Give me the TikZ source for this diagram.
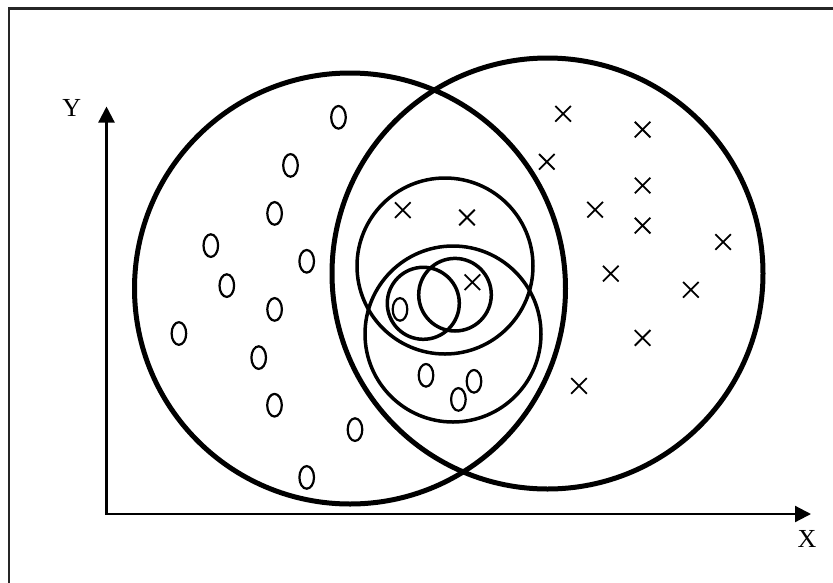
\documentclass[tikz,border=0pt]{standalone}
\usepackage{fontspec}
\setmainfont{Liberation Serif}
\usetikzlibrary{arrows.meta}
\begin{document}
\begin{tikzpicture}[x=1pt,y=-1pt,
  bigc/.style={line width=5pt},
  midc/.style={line width=3.5pt},
  zeromk/.style={line width=2.2pt},
  crossmk/.style={line width=1.8pt},
  frameline/.style={line width=2.2pt, draw=black!85},
  axisline/.style={line width=2.2pt,{Triangle[length=16pt,width=16pt]}-{Triangle[length=16pt,width=16pt]}},
  lbl/.style={font=\fontsize{26}{30}\selectfont, inner sep=0pt}]
\useasboundingbox (0,0) rectangle (833,582);
% frame (only left and top edges fall inside the picture)
\draw[frameline] (9,600) -- (9,8.5) -- (850,8.5);
% axes
\coordinate (O) at (106.5,514);
\coordinate (ytip) at (106.5,106.5);
\coordinate (xtip) at (811,514);
\draw[axisline] (ytip) -- (O) -- (xtip);
\node[lbl] (ylabel) at (71.7,108) {Y};
\node[lbl] (xlabel) at (807,538.5) {X};
% big circles
\draw[bigc] (350,288.5) circle [radius=215.5];
\draw[bigc] (547.5,273.5) circle [radius=215.5];
% medium circles
\draw[midc] (445,266) circle [radius=88];
\draw[midc] (453,334) circle [radius=88];
% small circles
\draw[midc] (423.3,303.3) circle [radius=36];
\draw[midc] (455,294.7) circle [radius=36.3];
% zeros
\foreach \px/\py in {338.5/117.3, 290.5/165.4, 274.6/213.4, 210.8/245.6, 306.7/261.3,
  226.8/285.6, 274.6/309.4, 178.9/333.5, 258.7/357.6, 274.5/405.2, 355/429.6,
  306.7/477.4, 400/309.4, 426/375.3, 458.4/399.4, 474/381.3}
  \draw[zeromk] (\px,\py) ellipse [x radius=7.3, y radius=11.3];
% crosses
\foreach \px/\py in {563.1/113.8, 642.6/129.6, 546.8/161.8, 642.6/185.5, 595.1/209.7,
  642.6/225.6, 723.1/242, 402.8/210.1, 467/217.5, 610.8/273.6, 690.9/289.8,
  472.4/282.2, 642.6/337.9, 579/385.9}
  \draw[crossmk] (\px,\py) ++(-7.8,-7.8) -- ++(15.6,15.6) ++(-15.6,0) -- ++(15.6,-15.6);
\end{tikzpicture}
\end{document}
